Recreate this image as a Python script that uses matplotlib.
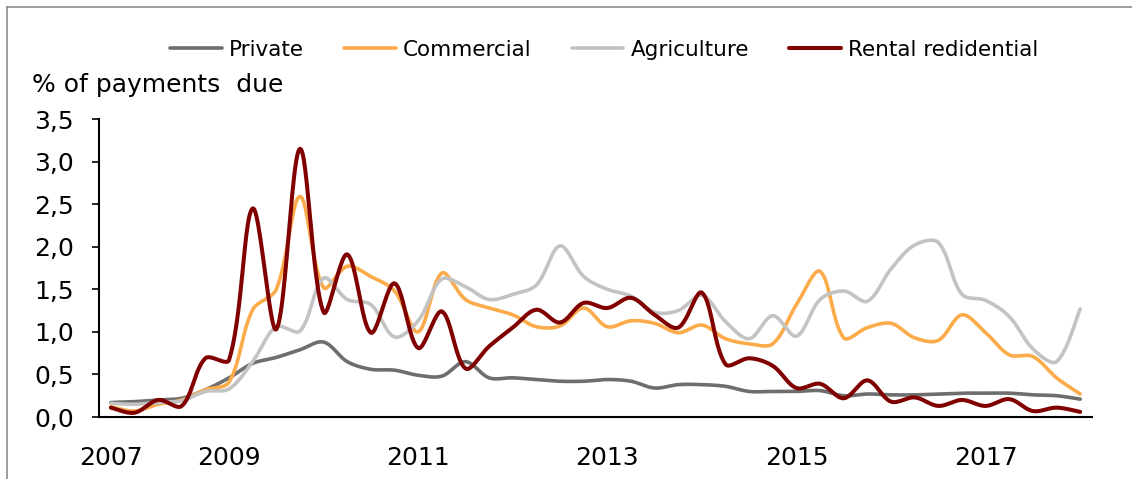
"""
Payments due by loan segment, quarterly, 2007-2018
"""

import numpy as np
import matplotlib
matplotlib.use("Agg")
import matplotlib.pyplot as plt
from matplotlib.lines import Line2D
from matplotlib.ticker import FuncFormatter

# Quarter index 0 = first observation, 41 = last
quarters = list(range(42))
tick_positions = [0, 5, 13, 21, 29, 37]
tick_labels = ["2007", "2009", "2011", "2013", "2015", "2017"]

series_names = ["Private", "Commercial", "Agriculture", "Rental redidential"]
series_colors = ["#6e6e6e", "#fbab4a", "#c3c3c3", "#800000"]

private = [0.17, 0.18, 0.20, 0.22, 0.32, 0.46, 0.63, 0.70, 0.79, 0.88,
           0.65, 0.56, 0.55, 0.49, 0.48, 0.65, 0.46, 0.46, 0.44, 0.42,
           0.42, 0.44, 0.42, 0.34, 0.38, 0.38, 0.36, 0.30, 0.30, 0.30,
           0.31, 0.25, 0.27, 0.26, 0.26, 0.27, 0.28, 0.28, 0.28, 0.26,
           0.25, 0.21]
commercial = [0.12, 0.07, 0.15, 0.20, 0.32, 0.41, 1.26, 1.50, 2.59, 1.52,
              1.77, 1.65, 1.48, 1.00, 1.69, 1.38, 1.28, 1.20, 1.06, 1.07,
              1.28, 1.06, 1.13, 1.10, 0.99, 1.08, 0.92, 0.86, 0.86, 1.32,
              1.71, 0.93, 1.05, 1.10, 0.93, 0.90, 1.20, 0.99, 0.73, 0.71,
              0.46, 0.27]
agriculture = [0.16, 0.15, 0.17, 0.19, 0.30, 0.33, 0.65, 1.06, 1.01, 1.63,
               1.38, 1.32, 0.94, 1.13, 1.62, 1.53, 1.38, 1.44, 1.55, 2.01,
               1.65, 1.50, 1.42, 1.23, 1.25, 1.43, 1.12, 0.92, 1.19, 0.95,
               1.38, 1.48, 1.36, 1.74, 2.02, 2.05, 1.44, 1.37, 1.18, 0.80,
               0.65, 1.27]
rental = [0.11, 0.05, 0.20, 0.13, 0.69, 0.67, 2.45, 1.03, 3.15, 1.23,
          1.91, 0.99, 1.57, 0.81, 1.24, 0.57, 0.83, 1.05, 1.26, 1.11,
          1.34, 1.28, 1.40, 1.20, 1.05, 1.46, 0.62, 0.69, 0.60, 0.34,
          0.39, 0.22, 0.43, 0.18, 0.23, 0.13, 0.20, 0.13, 0.21, 0.07,
          0.11, 0.06]


def smooth(x, y, steps=24, yscale=3.6):
    # bezier smoothing with control points weighted by segment length,
    # close to what Excel does for "smoothed line"
    x = np.asarray(x, float)
    y = np.asarray(y, float)
    n = len(x)
    # segment lengths measured roughly in screen proportions
    seg = np.hypot(np.diff(x), np.diff(y) * yscale)
    xs, ys = [], []
    t = np.linspace(0, 1, steps, endpoint=False)
    for i in range(n - 1):
        i0, i3 = max(i - 1, 0), min(i + 2, n - 1)
        p0 = np.array([x[i0], y[i0]])
        p1 = np.array([x[i], y[i]])
        p2 = np.array([x[i + 1], y[i + 1]])
        p3 = np.array([x[i3], y[i3]])
        d01 = seg[i - 1] if i > 0 else seg[i]
        d12 = seg[i]
        d23 = seg[i + 1] if i + 1 < n - 1 else seg[i]
        c1 = p1 + (p2 - p0) * d12 / (d01 + d12) / 3
        c2 = p2 - (p3 - p1) * d12 / (d12 + d23) / 3
        a = (1 - t) ** 3
        b = 3 * (1 - t) ** 2 * t
        c = 3 * (1 - t) * t ** 2
        d = t ** 3
        xs.append(a * p1[0] + b * c1[0] + c * c2[0] + d * p2[0])
        ys.append(a * p1[1] + b * c1[1] + c * c2[1] + d * p2[1])
    xs.append([x[-1]])
    ys.append([y[-1]])
    return np.concatenate(xs), np.concatenate(ys)


W, H = 1132, 479
fig = plt.figure(figsize=(W / 100, H / 100), dpi=100)
ax = fig.add_axes([99 / W, 1 - 417 / H, (1092 - 99) / W, (417 - 119) / H])

handles = []
for name, color, values in zip(series_names, series_colors,
                               [private, commercial, agriculture, rental]):
    sx, sy = smooth(quarters, values)
    lw = 2.9 if name.startswith("Rental") else 2.6
    line, = ax.plot(sx, sy, color=color, lw=lw, label=name,
                    solid_capstyle="round")
    handles.append(line)

ax.set_xlim(-0.5, 41.5)
ax.set_ylim(0, 3.5)
ax.set_yticks(np.arange(0, 3.51, 0.5))
ax.yaxis.set_major_formatter(FuncFormatter(lambda v, p: f"{v:.1f}".replace(".", ",")))
ax.set_xticks(tick_positions)
ax.set_xticklabels(tick_labels)

ax.tick_params(axis="y", direction="out", length=5, width=1.2,
               labelsize=18, pad=13)
ax.tick_params(axis="x", length=0, labelsize=18, pad=21)

for side in ["top", "right"]:
    ax.spines[side].set_visible(False)
for side in ["left", "bottom"]:
    ax.spines[side].set_linewidth(1.5)
    ax.spines[side].set_color("black")

# y axis title above the axis
fig.text(32 / W, 1 - 92 / H, "% of payments  due", fontsize=18,
         ha="left", va="baseline")

# legend across the top
fig.legend(handles=handles, loc="center left",
           bbox_to_anchor=(170 / W, 1 - 50 / H), bbox_transform=fig.transFigure,
           ncol=4, frameon=False, fontsize=15.5, handlelength=2.4,
           handletextpad=0.35, columnspacing=1.85, borderpad=0, borderaxespad=0)

# chart area border (only top and left edges are visible)
fig.add_artist(Line2D([7 / W, 1], [1 - 7 / H, 1 - 7 / H],
                      transform=fig.transFigure, color="#8c8c8c", lw=1.2))
fig.add_artist(Line2D([7 / W, 7 / W], [0, 1 - 7 / H],
                      transform=fig.transFigure, color="#8c8c8c", lw=1.2))

fig.savefig("out.png", dpi=100)
plt.close(fig)
